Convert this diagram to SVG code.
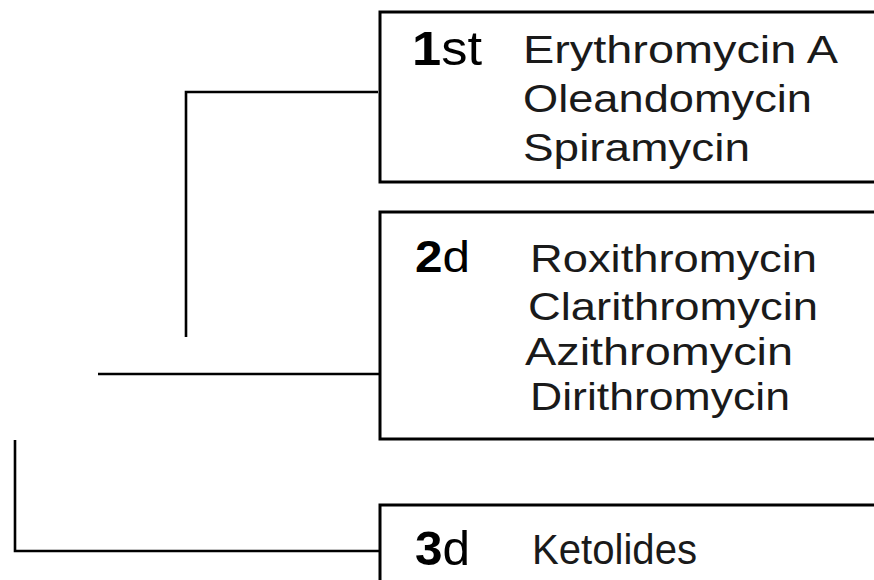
<svg xmlns="http://www.w3.org/2000/svg" width="874" height="580" viewBox="0 0 874 580">
  <style>
    .box { fill: #fff; stroke: #000; stroke-width: 3; }
    .conn { fill: none; stroke: #000; stroke-width: 2.6; }
    .num { font-family: "Liberation Sans", Arial, sans-serif; fill: #000; }
    .b { font-weight: bold; }
    .drug { font-family: "Liberation Sans", Arial, sans-serif; font-size: 38px; fill: #1a1a1a; }
  </style>
  <rect width="874" height="580" fill="#fff"/>
  <g id="connectors">
    <polyline class="conn" points="186,337 186,92 378,92"/>
    <line class="conn" x1="98" y1="374" x2="380" y2="374"/>
    <polyline class="conn" points="15,440 15,551 380,551"/>
  </g>
  <g id="gen1">
    <rect class="box" x="380" y="12" width="520" height="170"/>
    <text class="num" x="412" y="65" font-size="48" textLength="70" lengthAdjust="spacingAndGlyphs"><tspan class="b">1</tspan>st</text>
    <text class="drug" x="523" y="63" textLength="315" lengthAdjust="spacingAndGlyphs">Erythromycin A</text>
    <text class="drug" x="523" y="112" textLength="289" lengthAdjust="spacingAndGlyphs">Oleandomycin</text>
    <text class="drug" x="523" y="161" textLength="227" lengthAdjust="spacingAndGlyphs">Spiramycin</text>
  </g>
  <g id="gen2">
    <rect class="box" x="380" y="212" width="520" height="227"/>
    <text class="num" x="415" y="272" font-size="45" textLength="55" lengthAdjust="spacingAndGlyphs"><tspan class="b">2</tspan>d</text>
    <text class="drug" x="530" y="272" textLength="287" lengthAdjust="spacingAndGlyphs">Roxithromycin</text>
    <text class="drug" x="528" y="320" textLength="290" lengthAdjust="spacingAndGlyphs">Clarithromycin</text>
    <text class="drug" x="525" y="365" textLength="268" lengthAdjust="spacingAndGlyphs">Azithromycin</text>
    <text class="drug" x="530" y="410" textLength="260" lengthAdjust="spacingAndGlyphs">Dirithromycin</text>
  </g>
  <g id="gen3">
    <rect class="box" x="380" y="505" width="520" height="120"/>
    <text class="num" x="415" y="565" font-size="48" textLength="55" lengthAdjust="spacingAndGlyphs"><tspan class="b">3</tspan>d</text>
    <text class="drug" x="532" y="564" textLength="165" lengthAdjust="spacingAndGlyphs" style="font-size:43px">Ketolides</text>
  </g>
</svg>
